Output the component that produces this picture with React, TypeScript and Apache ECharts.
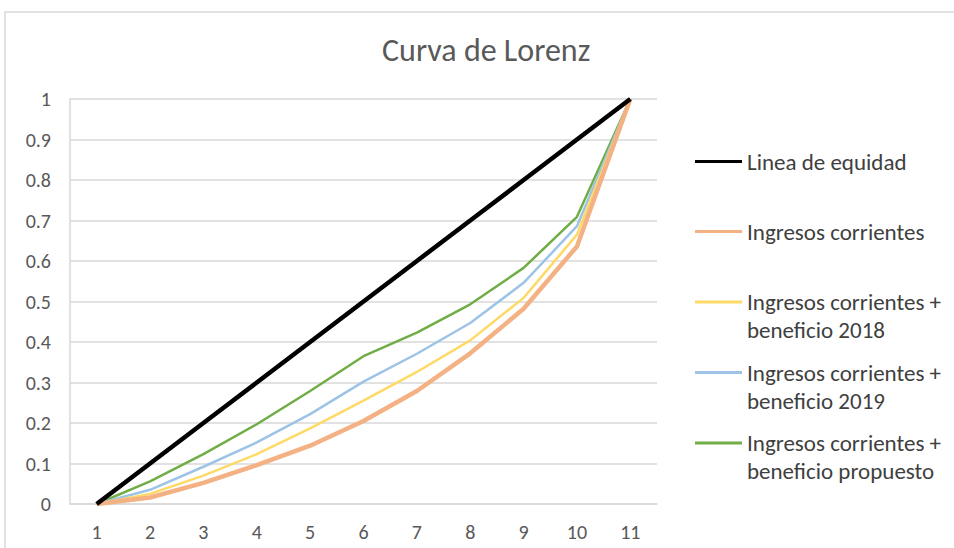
import React, { useEffect, useRef } from "react";
import * as echarts from "echarts";

const categories = ["1", "2", "3", "4", "5", "6", "7", "8", "9", "10", "11"];
const equidad = [0, 0.1, 0.2, 0.3, 0.4, 0.5, 0.6, 0.7, 0.8, 0.9, 1.0];
const ingresos = [0, 0.016, 0.052, 0.096, 0.144, 0.205, 0.279, 0.372, 0.482, 0.636, 1.0];
const ben2018 = [0, 0.025, 0.07, 0.123, 0.187, 0.255, 0.326, 0.404, 0.509, 0.665, 1.0];
const ben2019 = [0, 0.035, 0.092, 0.152, 0.222, 0.302, 0.371, 0.447, 0.546, 0.686, 1.0];
const propuesto = [0, 0.056, 0.123, 0.197, 0.279, 0.365, 0.423, 0.493, 0.583, 0.709, 1.0];

const names = [
  "Linea de equidad",
  "Ingresos corrientes",
  "Ingresos corrientes + beneficio 2018",
  "Ingresos corrientes + beneficio 2019",
  "Ingresos corrientes + beneficio propuesto",
];
const colors = ["#000000", "#F4B183", "#FFD966", "#9DC3E6", "#70AD47"];
const widths = [4.5, 4.5, 2.5, 2.5, 2.5];
const seriesData = [equidad, ingresos, ben2018, ben2019, propuesto];
const legendCenters = [161.5, 231.5, 302, 372.5, 443];

const FONT = "Carlito, 'Liberation Sans Narrow', 'Open Sans', sans-serif";

export default function App() {
  const ref = useRef<HTMLDivElement>(null);
  useEffect(() => {
    if (!ref.current) return;
    const chart = echarts.init(ref.current, undefined, { renderer: "svg" });
    const legends = names.map((n, i) => {
      const twoLine = n.includes("+");
      return {
        show: true,
        data: [n],
        left: 695,
        top: twoLine ? legendCenters[i] - 15.5 : legendCenters[i] - 11.5,
        padding: 0,
        itemWidth: 47,
        itemHeight: twoLine ? 59 : 20,
        itemGap: 0,
        icon: twoLine
          ? "path://M0,0L0.001,0 M0,14H47V17H0Z M0,59L0.001,59"
          : "path://M0,8.5H47V11.5H0Z M0,0L0.001,0 M0,20L0.001,20",
        selectedMode: false,
        formatter: (name: string) => name.replace(" + ", " +\n"),
        textStyle: {
          fontFamily: FONT,
          fontSize: 23,
          color: "#404040",
          lineHeight: twoLine ? 28 : 23,
        },
      };
    });
    chart.setOption({
      animation: false,
      backgroundColor: "#ffffff",
      title: {
        text: "Curva de Lorenz",
        left: 382,
        top: 34,
        padding: 0,
        textStyle: { fontFamily: FONT, fontSize: 32, fontWeight: "normal", color: "#595959" },
      },
      legend: legends,
      graphic: [
        {
          type: "rect",
          shape: { x: 5, y: 12, width: 1000, height: 600 },
          style: { fill: "none", stroke: "#d9d9d9", lineWidth: 1.5 },
          silent: true,
        },
      ],
      grid: { left: 70, top: 99, right: 297, bottom: 44, containLabel: false },
      xAxis: {
        type: "category",
        data: categories,
        boundaryGap: true,
        axisLine: { lineStyle: { color: "#d9d9d9", width: 1.5 } },
        axisTick: { show: false },
        axisLabel: { fontFamily: FONT, fontSize: 20, color: "#595959", margin: 18 },
      },
      yAxis: {
        type: "value",
        min: 0,
        max: 1,
        interval: 0.1,
        axisLine: { show: true, lineStyle: { color: "#d9d9d9", width: 1.5 } },
        axisTick: { show: false },
        splitLine: { lineStyle: { color: "#d9d9d9", width: 1.5 } },
        axisLabel: {
          fontFamily: FONT,
          fontSize: 20,
          color: "#595959",
          margin: 19,
          formatter: (v: number) => String(Math.round(v * 10) / 10),
        },
      },
      series: names.map((n, i) => ({
        name: n,
        type: "line",
        data: seriesData[i],
        symbol: "none",
        color: colors[i],
        lineStyle: { color: colors[i], width: widths[i] },
        z: 10 - i,
      })),
    });
    return () => chart.dispose();
  }, []);
  return (
    <div
      ref={ref}
      style={{ position: "fixed", left: 0, top: 0, width: 954, height: 548 }}
    />
  );
}
